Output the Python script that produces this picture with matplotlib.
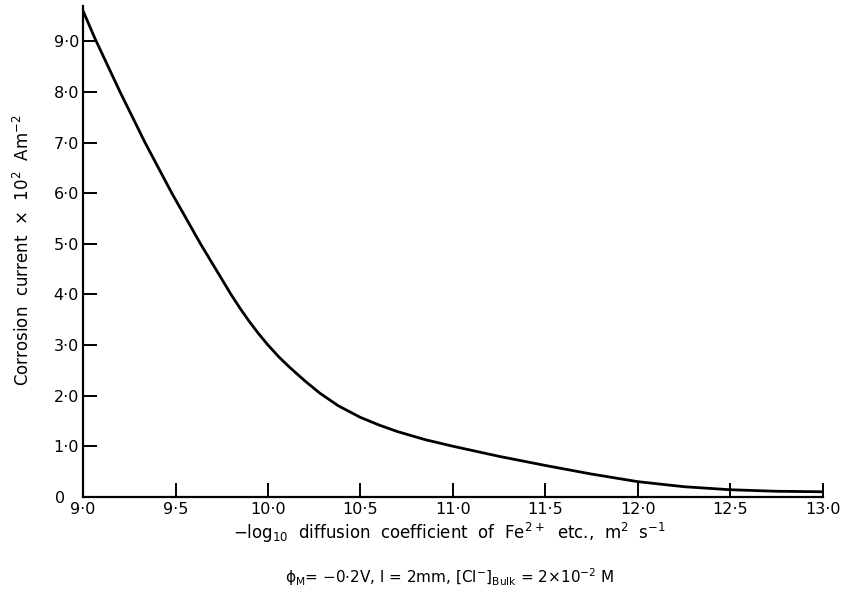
import matplotlib
matplotlib.use("Agg")
import matplotlib.pyplot as plt
from matplotlib.transforms import ScaledTranslation

# curve: -log10 D vs corrosion current (x 10^2 A m^-2)
log_d = [9.0, 9.065, 9.2, 9.335, 9.48, 9.635, 9.80, 9.85, 9.9, 9.95,
         10.0, 10.06, 10.12, 10.2, 10.28, 10.38, 10.5, 10.6, 10.7, 10.85,
         11.0, 11.25, 11.5, 11.75, 12.0, 12.25, 12.5, 12.75, 13.0]
current = [9.6, 9.05, 8.0, 7.0, 6.0, 5.0, 4.0, 3.72, 3.46, 3.22,
           3.0, 2.76, 2.55, 2.29, 2.05, 1.8, 1.57, 1.42, 1.29, 1.13,
           1.0, 0.8, 0.62, 0.45, 0.3, 0.2, 0.14, 0.11, 0.1]

xticks = [9.0, 9.5, 10.0, 10.5, 11.0, 11.5, 12.0, 12.5, 13.0]
yticks = [0, 1, 2, 3, 4, 5, 6, 7, 8, 9]

def dot_label(v):
    # old style decimal point: 9.0 -> 9·0
    if v == 0:
        return "0"
    return ("%.1f" % v).replace(".", "\u00b7")

plt.rcParams['font.family'] = ['DejaVu Sans']
plt.rcParams['mathtext.default'] = 'regular'

fig = plt.figure(figsize=(8.48, 5.95), dpi=100)
ax = fig.add_axes([0.098, 0.165, 0.872, 0.825])

ax.plot(log_d, current, color='black', lw=2.0, solid_capstyle='round',
        solid_joinstyle='round')

ax.set_xlim(9.0, 13.0)
ax.set_ylim(0, 9.7)
ax.spines['top'].set_visible(False)
ax.spines['right'].set_visible(False)
ax.spines['left'].set_linewidth(1.6)
ax.spines['bottom'].set_linewidth(1.6)

ax.set_xticks(xticks)
ax.set_xticklabels([dot_label(v) for v in xticks])
ax.set_yticks(yticks)
ax.set_yticklabels([dot_label(v) for v in yticks])
ax.tick_params(direction='in', length=10, width=1.4, labelsize=11.5,
               color='black', pad=3)
ax.tick_params(axis='x', pad=4)

# the "0" on the y axis sits further left, clear of the 9·0 below it
zero = ax.get_yticklabels()[0]
zero.set_transform(zero.get_transform() +
                   ScaledTranslation(-10 / 72, 0, fig.dpi_scale_trans))

fig.text(0.027, 0.58, r'Corrosion  current  $\times$  10$^{2}$  Am$^{-2}$',
         rotation=90, ha='center', va='center', fontsize=12)
fig.text(0.53, 0.105,
         r'$-$log$_{10}$  diffusion  coefficient  of  Fe$^{2+}$  etc.,  m$^{2}$  s$^{-1}$',
         ha='center', va='center', fontsize=12)
fig.text(0.53, 0.03,
         r'$\phi_{M}$= $-$0$\cdot$2V, l = 2mm, [Cl$^{-}$]$_{Bulk}$ = 2$\times$10$^{-2}$ M',
         ha='center', va='center', fontsize=11)

fig.savefig('out.png', dpi=100)
